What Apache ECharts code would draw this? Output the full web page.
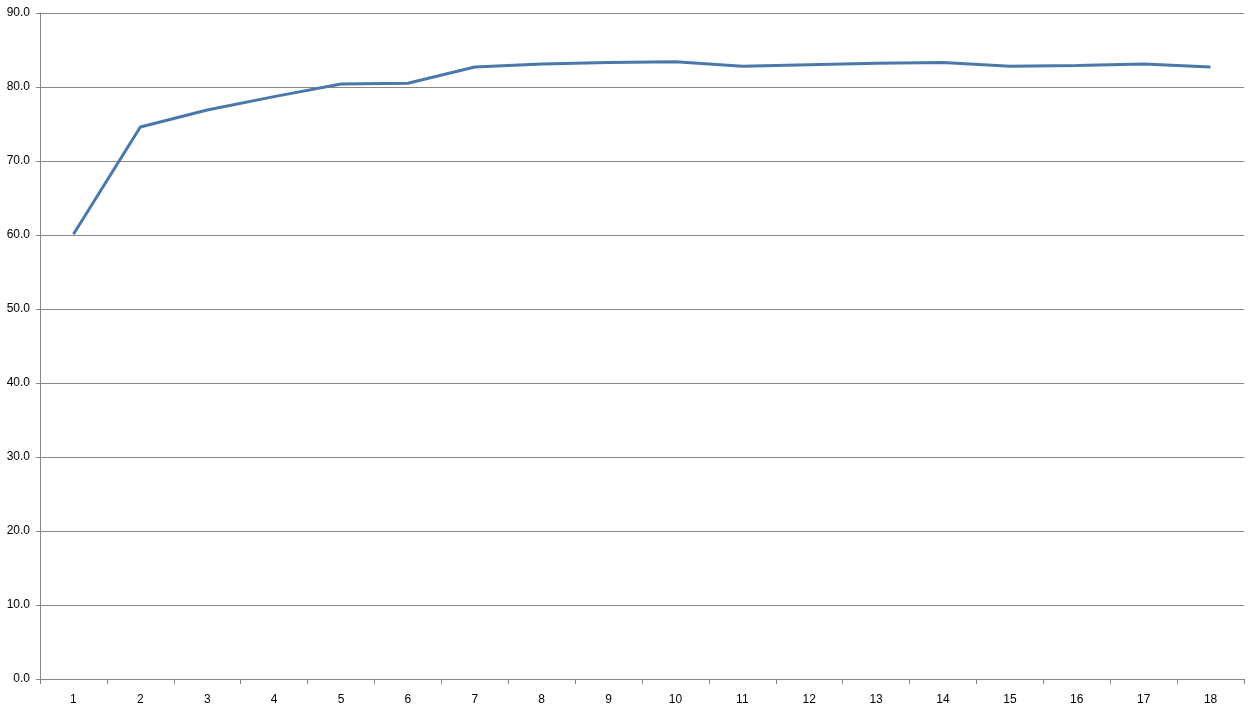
<!DOCTYPE html>
<html>
<head>
<meta charset="utf-8">
<script src="https://cdn.jsdelivr.net/npm/echarts@6/dist/echarts.min.js"></script>
<style>html,body{margin:0;padding:0;background:#fff}#c{width:1260px;height:714px}</style>
</head>
<body>
<div id="c"></div>
<script>
const categories = ['1','2','3','4','5','6','7','8','9','10','11','12','13','14','15','16','17','18'];
const values = [60.1, 74.6, 76.9, 78.7, 80.4, 80.5, 82.7, 83.1, 83.3, 83.4, 82.8, 83.0, 83.2, 83.3, 82.8, 82.9, 83.1, 82.7];

const chart = echarts.init(document.getElementById('c'), null, {renderer: 'canvas'});
chart.setOption({
  animation: false,
  backgroundColor: '#fff',
  grid: {left: 40, right: 16, top: 13, bottom: 35, containLabel: false},
  xAxis: {
    type: 'category',
    data: categories,
    boundaryGap: true,
    axisLine: {lineStyle: {color: '#868686', width: 1}},
    axisTick: {show: true, interval: 0, length: 5, lineStyle: {color: '#868686'}},
    axisLabel: {color: '#000', fontFamily: 'Liberation Sans, Arial, sans-serif', fontSize: 12, margin: 15, interval: 0}
  },
  yAxis: {
    type: 'value',
    min: 0, max: 90, interval: 10,
    axisLine: {show: true, lineStyle: {color: '#868686', width: 1}},
    axisTick: {show: true, length: 4, lineStyle: {color: '#868686'}},
    splitLine: {show: true, lineStyle: {color: '#868686', width: 1}},
    axisLabel: {color: '#000', fontFamily: 'Liberation Sans, Arial, sans-serif', fontSize: 12, margin: 10,
      formatter: v => v.toFixed(1)}
  },
  series: [{
    type: 'line',
    data: values,
    symbol: 'none',
    lineStyle: {color: '#4a78ab', width: 3},
    itemStyle: {color: '#4a78ab'}
  }]
});
</script>
</body>
</html>
